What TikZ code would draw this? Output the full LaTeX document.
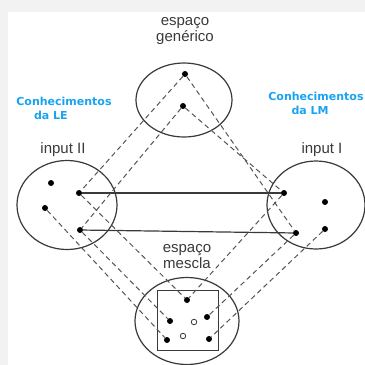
\documentclass[tikz,border=0pt]{standalone}
\usepackage{fontspec}
\setmainfont{Liberation Sans}
\newfontfamily\knowfont{DejaVu Sans}
\usetikzlibrary{shapes.geometric}

\definecolor{inkgray}{HTML}{3A3A3A}
\definecolor{dashgray}{HTML}{555555}
\definecolor{knowblue}{HTML}{1AA3F0}

\tikzset{
	region/.style = {draw = inkgray, line width = 1.2pt, ellipse, inner sep = 0pt},
	dot/.style = {circle, fill = black, inner sep = 0pt, minimum size = 6pt},
	hollow/.style = {circle, draw = inkgray, fill = white, line width = 0.8pt, inner sep = 0pt, minimum size = 5.5pt},
	link/.style = {dashgray, line width = 1pt, dash pattern = on 5pt off 3.5pt},
	map/.style = {inkgray, line width = 1.2pt},
	title/.style = {text = inkgray, font = \fontsize{15}{16}\selectfont, align = center, inner sep = 0pt},
	know/.style = {text = knowblue, font = \knowfont\bfseries\fontsize{11}{14}\selectfont, align = left, inner sep = 0pt}
}

\begin{document}
\begin{tikzpicture}[x = 1pt, y = -1pt]

	\useasboundingbox (0,0) rectangle (365,365);

	% Page
	
	\fill [gray!10] (0,0) rectangle (365,365);
	\fill [white] (8,12) rectangle (365,365);

	% Spaces
	
	\node [region, minimum width = 96pt, minimum height = 74pt] (gen) at (184,100) {};
	\node [region, minimum width = 100pt, minimum height = 89pt] (in2) at (67,205) {};
	\node [region, minimum width = 98pt, minimum height = 88pt] (in1) at (316,205) {};
	\node [region, minimum width = 104pt, minimum height = 87pt] (mix) at (187,321) {};
	\node [draw = inkgray, line width = 1.5pt, minimum width = 61pt, minimum height = 60pt, inner sep = 0pt] (box) at (188,320.5) {};

	% Titles
	
	\node [title] (tgen) at (185,31) {espaço\\genérico};
	\node [title] (tin2) at (63,150) {input II};
	\node [title] (tin1) at (322,150) {input I};
	\node [title] (tmix) at (187,257) {espaço\\mescla};
	
	\node [know] (kle) at (64,108) {Conhecimentos\\\hspace*{1.6em}da LE};
	\node [know] (klm) at (316,103) {Conhecimentos\\\hspace*{2.1em}da LM};

	% Elements
	
	\node [dot] (g1) at (185,74) {};
	\node [dot] (g2) at (183,106) {};
	
	\node [dot] (a0) at (51,183) {};
	\node [dot] (a1) at (79,193) {};
	\node [dot] (a2) at (45,208) {};
	\node [dot] (a3) at (80,230) {};
	
	\node [dot] (b1) at (284,193) {};
	\node [dot] (b0) at (325,202) {};
	\node [dot] (b2) at (296,233) {};
	\node [dot] (b3) at (325,229) {};
	
	\node [dot] (m1) at (187,300) {};
	\node [dot] (m2) at (170,321) {};
	\node [dot] (m3) at (207,317) {};
	\node [dot] (m4) at (167,340) {};
	\node [dot] (m5) at (209,339) {};
	\node [hollow] (m6) at (194,322) {};
	\node [hollow] (m7) at (183,336) {};

	% Cross-space mapping
	
	\draw [map] (a1) -- (b1);
	\draw [map] (a3) -- (b2);

	% Projections
	
	\draw [link] (g1) -- (a1);
	\draw [link] (g1) -- (b2);
	\draw [link] (g2) -- (a3);
	\draw [link] (g2) -- (b1);
	
	\draw [link] (a1) -- (m1);
	\draw [link] (b1) -- (m1);
	\draw [link] (a3) -- (m2);
	\draw [link] (a2) -- (m4);
	\draw [link] (b2) -- (m3);
	\draw [link] (b3) -- (m5);
	
\end{tikzpicture}
\end{document}
